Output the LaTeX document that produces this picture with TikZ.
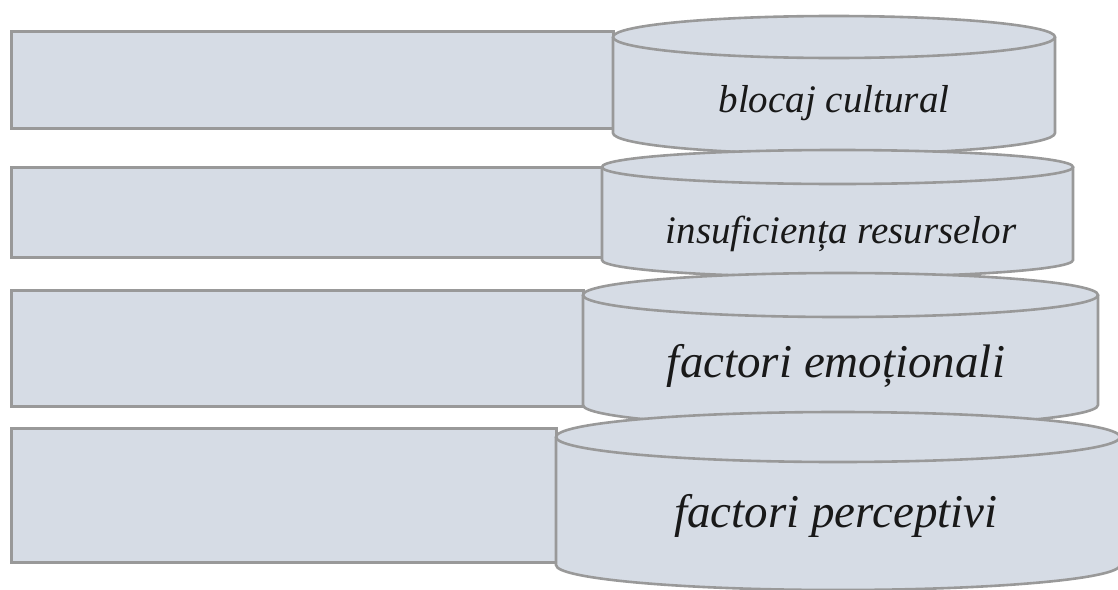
\documentclass[tikz,border=0pt]{standalone}
\usepackage{fontspec}
\setmainfont{Liberation Serif}
\definecolor{boxfill}{HTML}{D6DCE5}
\definecolor{boxline}{HTML}{999999}
\tikzset{
  bar/.style={fill=boxfill, draw=boxline, line width=3pt},
  cylline/.style={draw=boxline, line width=2.6pt},
  lab/.style={anchor=base, inner sep=0pt, text=black!90},
}
% cx, ytop, ybot, rx, ry
\newcommand{\drawcyl}[5]{%
  \fill[boxfill] (#1-#4,#2) -- (#1-#4,#3) arc[start angle=180,end angle=360,x radius=#4,y radius=#5]
     -- (#1+#4,#2) arc[start angle=0,end angle=180,x radius=#4,y radius=#5] -- cycle;
  \draw[cylline] (#1,#2) ellipse[x radius=#4, y radius=#5];
  \draw[cylline] (#1-#4,#2) -- (#1-#4,#3) arc[start angle=180,end angle=360,x radius=#4,y radius=#5] -- (#1+#4,#2);
}
\begin{document}
\begin{tikzpicture}[x=1pt,y=1pt]
\useasboundingbox (0,0) rectangle (1118,-589);
\clip (0,0) rectangle (1118,-589);
\fill[white] (0,0) rectangle (1118,-589);
% bars
\draw[bar] (11,-31) rectangle (613,-128);
\draw[bar] (11,-167) rectangle (602,-257);
\draw[bar] (11,-290) rectangle (583,-406);
\draw[bar] (11,-428) rectangle (556,-562);
% cylinders
\drawcyl{834}{-37}{-133}{221}{21}
\drawcyl{837.5}{-167}{-260}{235.5}{17}
\drawcyl{840.5}{-295}{-405}{257.5}{22}
\drawcyl{838}{-437}{-565}{282}{25}
% labels
\node[lab, font=\itshape\fontsize{39}{39}\selectfont] (t1) at (834,-112) {blocaj cultural};
\node[lab, font=\itshape\fontsize{39}{39}\selectfont] (t2) at (841,-243) {insuficiența resurselor};
\node[lab, font=\itshape\fontsize{47}{47}\selectfont] (t3) at (836,-377) {factori emoționali};
\node[lab, font=\itshape\fontsize{47}{47}\selectfont] (t4) at (836,-527) {factori perceptivi};
\end{tikzpicture}
\end{document}
